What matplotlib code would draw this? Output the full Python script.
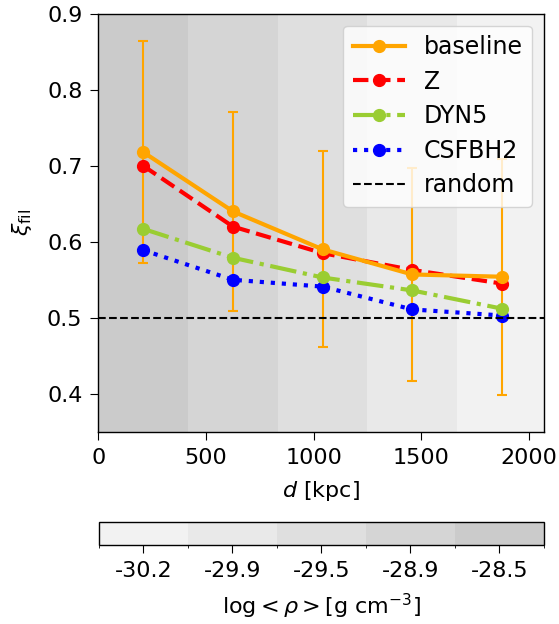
import numpy as np
import matplotlib
matplotlib.use("Agg")
import matplotlib.pyplot as plt
from matplotlib.colors import ListedColormap, BoundaryNorm
from matplotlib.colorbar import ColorbarBase

# data
d = [208, 625, 1042, 1458, 1875]
baseline = [0.718, 0.640, 0.590, 0.557, 0.554]
baseline_err = [0.146, 0.131, 0.129, 0.140, 0.155]
Z = [0.700, 0.620, 0.585, 0.563, 0.545]
DYN5 = [0.617, 0.579, 0.553, 0.536, 0.512]
CSFBH2 = [0.589, 0.550, 0.541, 0.511, 0.503]
random_level = 0.5
band_edges = [0, 417, 833, 1250, 1667, 2083]
band_colors = ['#cbcbcb', '#d5d5d5', '#dfdfdf', '#e9e9e9', '#f2f2f2']
rho_labels = ['-30.2', '-29.9', '-29.5', '-28.9', '-28.5']

plt.rcParams['font.size'] = 16
plt.rcParams['xtick.major.size'] = 5.5
plt.rcParams['ytick.major.size'] = 5.5
plt.rcParams['xtick.major.pad'] = 6
plt.rcParams['ytick.major.pad'] = 6
plt.rcParams['axes.linewidth'] = 1.0
fig = plt.figure(figsize=(5.59, 6.24), dpi=100)
ax = fig.add_axes([0.176, 0.308, 0.797, 0.670])

for i in range(len(band_colors)):
    ax.axvspan(band_edges[i], band_edges[i + 1], color=band_colors[i], lw=0, zorder=0)

ax.errorbar(d, baseline, yerr=baseline_err, fmt='none', ecolor='orange',
            capsize=3.5, elinewidth=1.5, capthick=1.5, zorder=1.5)
h0, = ax.plot(d, baseline, color='orange', lw=3, marker='o', ms=8.5, label='baseline', zorder=5)
h1, = ax.plot(d, Z, color='red', ls='--', lw=3, marker='o', ms=8.5, label='Z', zorder=4)
h2, = ax.plot(d, DYN5, color='yellowgreen', ls='-.', lw=3, marker='o', ms=8.5, label='DYN5', zorder=3)
h3, = ax.plot(d, CSFBH2, color='blue', ls=':', lw=3, marker='o', ms=8.5, label='CSFBH2', zorder=2)
h4 = ax.axhline(random_level, color='black', ls='--', lw=1.5, label='random', zorder=6)

ax.set_xlim(0, 2070)
ax.set_ylim(0.35, 0.9)
ax.set_xticks([0, 500, 1000, 1500, 2000])
ax.set_yticks([0.4, 0.5, 0.6, 0.7, 0.8, 0.9])
ax.set_xlabel(r'$d$ [kpc]', labelpad=8)
ax.set_ylabel(r'$\xi_{\rm fil}$', labelpad=9)
ax.legend(handles=[h0, h1, h2, h3, h4], loc='upper right', fontsize=17,
          handlelength=2.2, labelspacing=0.45)

cax = fig.add_axes([0.177, 0.127, 0.796, 0.037])
cmap = ListedColormap(band_colors[::-1])
norm = BoundaryNorm(np.arange(6) - 0.5, cmap.N)
cb = ColorbarBase(cax, cmap=cmap, norm=norm, orientation='horizontal', ticks=np.arange(5))
cb.set_ticklabels(rho_labels)
cb.set_label(r'$\log<\rho>[\mathrm{g\ cm^{-3}}]$', labelpad=8)

fig.savefig('out.png', dpi=100)
